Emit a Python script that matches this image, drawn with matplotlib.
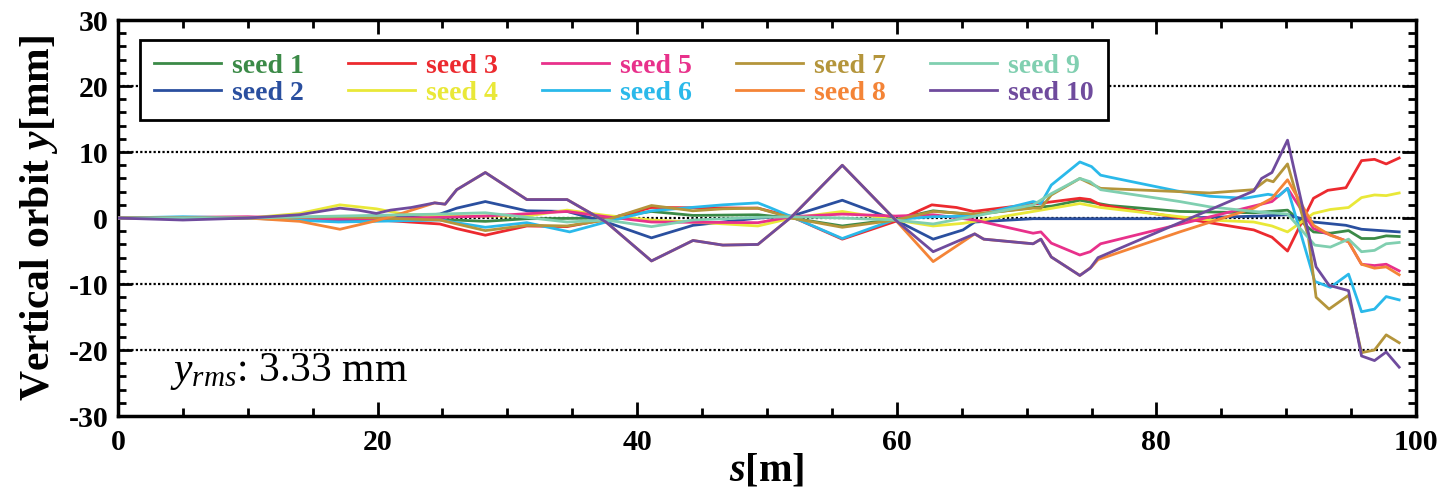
import matplotlib

matplotlib.use("Agg")
import matplotlib.pyplot as plt
from matplotlib.ticker import MultipleLocator

plt.rcParams["font.family"] = "Liberation Serif"
plt.rcParams["axes.unicode_minus"] = False
plt.rcParams["mathtext.fontset"] = "custom"
plt.rcParams["mathtext.rm"] = "Liberation Serif"
plt.rcParams["mathtext.it"] = "Liberation Serif:italic"
plt.rcParams["mathtext.bf"] = "Liberation Serif:bold"
plt.rcParams["mathtext.bfit"] = "Liberation Serif:bold:italic"

# orbit breakpoints, s [m] / y [mm]
s1 = [0, 10, 17, 24.8, 28.3, 31.5, 37.6, 41.1, 44.3, 49.3, 51.9, 55.8, 59.9, 62.8, 65.9, 70.5, 71.9, 74.1, 76.4,
      81.8, 87.5, 90.1, 92.1, 93.4, 94.8, 95.8, 96.8, 97.7, 98.7]
y1 = [0, 0, -0.3, -0.2, -0.5, -0.1, 0, 1.0, 0.4, 0.5, 0, -1.2, -0.2, 1.1, 0.5, 1.6, 1.8, 2.7, 1.9,
      1.0, 0.8, 1.2, -2.1, -2.3, -1.9, -3.1, -3.1, -2.7, -2.8]

s2 = [0, 10, 17, 22, 24.8, 26.1, 28.3, 31.5, 34.6, 37.6, 41.1, 44.3, 46.6, 49.3, 51.9, 55.8, 59.9, 62.8, 65.1,
      66.0, 70.5, 80, 88, 90.1, 92.1, 94.6, 95.8, 98.7]
y2 = [0, 0, -0.3, 0.2, 0.6, 1.5, 2.5, 1.1, 1.0, -0.6, -3.0, -1.1, -0.6, 0, 0.3, 2.7, -0.3, -3.2, -1.8,
      -0.6, -0.1, -0.1, 0.3, 0.5, -0.6, -1.1, -1.7, -2.1]

s3 = [0, 10, 17, 24.8, 26.1, 28.3, 31.5, 34.6, 37.6, 41.1, 49.3, 51.9, 55.8, 59.9, 62.7, 64.6, 65.9, 67.1, 71.3,
      74.1, 74.9, 75.7, 87.5, 88.9, 90.1, 92.1, 93.2, 94.6, 95.8, 96.8, 97.7, 98.7]
y3 = [0, 0, 0.1, -0.9, -1.6, -2.6, -1.2, -1.3, -0.2, 1.6, 1.5, 0.2, -3.2, -0.5, 2.0, 1.6, 1.0, 1.3, 2.3,
      3.0, 2.8, 2.0, -1.8, -2.9, -5.0, 3.0, 4.2, 4.6, 8.7, 8.9, 8.2, 9.1]

s4 = [0, 10, 14, 17.1, 19.9, 22, 24.8, 28.3, 31.5, 34.6, 37.6, 41.1, 44.3, 49.3, 51.9, 55.8, 59.9, 62.8, 65.1,
      70.5, 74.1, 75.7, 81.8, 84.1, 87.5, 88.9, 90.1, 92.1, 93.4, 94.8, 95.8, 96.8, 97.7, 98.7]
y4 = [0, 0, 0.7, 2.0, 1.4, 0.6, 0.3, 0.3, 0.3, 1.2, 0.4, -0.3, -0.6, -1.2, 0, 1.0, -0.3, -1.2, -0.8,
      1.0, 2.2, 1.6, 0.2, -0.3, -0.6, -1.2, -2.1, 0.7, 1.3, 1.6, 3.1, 3.5, 3.4, 3.8]

s5 = [0, 10, 17, 24.8, 28.3, 34.6, 37.6, 41.1, 49.3, 51.9, 55.8, 59.9, 62.8, 66.0, 70.5, 71.1, 71.9, 74.1,
      74.9, 75.7, 88.9, 90.1, 92.1, 94.8, 95.8, 96.8, 97.7, 98.7]
y5 = [0, 0.2, -0.2, 0.1, 0.3, 1.0, 0.2, -0.6, -0.7, 0.2, 0.6, 0.3, 0.5, -0.3, -2.3, -2.1, -3.8, -5.6,
      -5.1, -3.9, 2.5, 4.5, -1.6, -3.6, -7.0, -7.2, -7.0, -8.0]

s6 = [0, 5, 10, 17, 24.8, 28.3, 31.5, 34.8, 37.6, 41.1, 46.6, 49.3, 50.2, 51.9, 55.8, 59.9, 62.8, 66, 70.5,
      71.1, 71.9, 74.1, 75.0, 75.7, 76.4, 81.6, 84.1, 86.8, 88.6, 89.4, 90.1, 92.2, 93.4, 94.8, 95.8, 96.8,
      97.7, 98.7]
y6 = [0, 0.2, 0, -0.6, -0.3, -1.4, -0.7, -2.1, -0.6, 1.1, 2.0, 2.3, 1.6, 0.2, -3.1, -0.2, 0.2, 0.3, 2.5,
      2.2, 5.0, 8.5, 7.8, 6.5, 6.2, 4.1, 3.3, 3.0, 3.6, 3.3, 4.5, -9.6, -10.5, -8.5, -14.2, -13.8,
      -11.9, -12.4]

s7 = [0, 10, 17, 24.8, 28.3, 31.5, 34.6, 37.6, 41.1, 44.3, 46.6, 49.3, 51.9, 55.8, 59.9, 62.8, 65.9, 70.5,
      71.1, 71.9, 74.1, 75.7, 81.8, 84.1, 87.5, 88.5, 89.0, 90.1, 91.7, 92.3, 93.3, 94.8, 95.8, 96.8, 97.7,
      98.7]
y7 = [0, 0, 0.2, -0.3, -1.9, -1.1, -1.2, -0.3, 1.9, 1.1, 1.4, 1.5, 0, -1.4, -0.3, 1.0, 0.6, 1.5,
      1.5, 3.5, 6.0, 4.5, 4.0, 3.8, 4.3, 5.8, 5.5, 8.2, -2.8, -12.0, -13.8, -11.7, -20.4, -20.0, -17.7,
      -18.9]

s8 = [0, 10, 14, 17.1, 19.9, 22, 24.4, 25.2, 26.1, 28.3, 31.5, 34.6, 37.6, 41.1, 44.3, 46.6, 49.3, 51.9,
      55.8, 59.9, 62.8, 66.0, 66.7, 70.5, 71.1, 71.9, 74.1, 75.0, 75.5, 81.8, 87.5, 88.9, 90.1, 92.1, 93.4,
      94.8, 95.8, 96.8, 97.7, 98.7]
y8 = [0, 0, -0.5, -1.7, -0.4, 0.8, 2.3, 2.1, 4.3, 6.9, 2.8, 2.8, -0.6, -6.5, -3.4, -4.1, -4.0, 0.2,
      8.0, -0.3, -6.6, -2.4, -3.2, -3.9, -3.2, -5.9, -8.7, -7.4, -6.3, -2.1, 1.5, 3.0, 5.8, -1.1, -2.6,
      -3.6, -7.0, -7.6, -7.4, -8.6]

s9 = [0, 10, 17, 24.8, 28.3, 31.5, 34.6, 37.6, 41.1, 44.3, 49.3, 51.9, 55.8, 59.9, 62.8, 66, 70.5, 71.9,
      74.1, 74.9, 75.7, 81.8, 84.1, 87.5, 90.1, 92.2, 93.4, 94.8, 95.8, 96.8, 97.7, 98.7]
y9 = [0, 0, 0.3, 0.6, 0.8, 0.1, -0.6, -0.3, -1.3, -0.3, 0.1, 0.2, 0, -0.3, -0.9, 0.3, 2.0, 3.7,
      6.0, 5.5, 4.3, 2.5, 1.7, 1.0, 0.6, -4.1, -4.4, -3.2, -5.1, -4.9, -3.9, -3.7]

s10 = [0, 5, 10, 14, 17.1, 18.5, 19.9, 21, 22.6, 24.4, 25.2, 26.1, 28.3, 31.5, 34.6, 37.6, 41.1, 44.3, 46.6,
       49.3, 51.9, 55.8, 59.9, 62.8, 66.0, 66.7, 70.5, 71.1, 71.9, 74.1, 74.9, 75.5, 87.5, 88.1, 88.9, 90.1,
       92.3, 93.3, 94.8, 95.8, 96.8, 97.7, 98.7]
y10 = [0, -0.3, 0, 0.5, 1.5, 1.2, 0.7, 1.2, 1.6, 2.3, 2.1, 4.3, 6.9, 2.8, 2.8, -0.6, -6.5, -3.4, -4.1,
       -4.0, 0.2, 8.0, -0.3, -5.1, -2.4, -3.2, -3.9, -3.2, -5.9, -8.7, -7.6, -6.0, 4.1, 6.0, 6.9, 11.8,
       -7.4, -10.2, -11.0, -20.9, -21.6, -20.3, -22.6]

labels = [f"seed {i}" for i in range(1, 11)]
colors = ["#3b8a47", "#2a4f9f", "#ec2a2f", "#e9e838", "#e8318b",
          "#2ab9ea", "#b4953b", "#f48437", "#80cfb0", "#6f4b9d"]
series = [(s1, y1), (s2, y2), (s3, y3), (s4, y4), (s5, y5),
          (s6, y6), (s7, y7), (s8, y8), (s9, y9), (s10, y10)]
yrms = 3.33

fig = plt.figure(figsize=(14.42, 4.9), dpi=100)
ax = fig.add_axes([0.0818, 0.151, 0.9002, 0.808])

for yv in (-20, -10, 0, 10, 20):
    ax.axhline(yv, color="black", lw=1.6, ls=(0, (1, 1)), zorder=1)

for (s, y), lab, c in zip(series, labels, colors):
    ax.plot(s, y, color=c, lw=2.0, label=lab, zorder=3)

ax.set_xlim(0, 100)
ax.set_ylim(-30, 30)
ax.xaxis.set_major_locator(MultipleLocator(20))
ax.xaxis.set_minor_locator(MultipleLocator(5))
ax.yaxis.set_major_locator(MultipleLocator(10))
ax.yaxis.set_minor_locator(MultipleLocator(2))
ax.tick_params(which="both", direction="in", top=True, right=True, width=2, labelsize=21.5)
ax.tick_params(axis="x", pad=9)
ax.tick_params(axis="y", pad=7)
ax.tick_params(which="major", length=10)
ax.tick_params(which="minor", length=6)
for lab in ax.get_xticklabels() + ax.get_yticklabels():
    lab.set_fontweight("bold")
for sp in ax.spines.values():
    sp.set_linewidth(2.5)

ax.set_xlabel(r"$\mathbfit{s}$[m]", fontsize=29, fontweight="bold", labelpad=-2)
ax.set_ylabel(r"Vertical orbit $\mathbfit{y}$[mm]", fontsize=30, fontweight="bold", labelpad=6)

ax.text(4.0, -24.7, rf"$y_{{rms}}$: {yrms:.2f} mm", fontsize=30, ha="left", va="baseline")

leg = ax.legend(ncol=5, loc="upper left", bbox_to_anchor=(0.017, 0.95), borderaxespad=0,
                frameon=True, fancybox=False, edgecolor="black",
                handlelength=2.4, handletextpad=0.4, columnspacing=1.6,
                labelspacing=0.05, borderpad=0.5,
                prop={"family": "Liberation Serif", "weight": "bold", "size": 20})
leg.get_frame().set_linewidth(2)
leg.get_frame().set_alpha(1)
for txt, c in zip(leg.get_texts(), colors):
    txt.set_color(c)

fig.savefig("out.png", dpi=100)
